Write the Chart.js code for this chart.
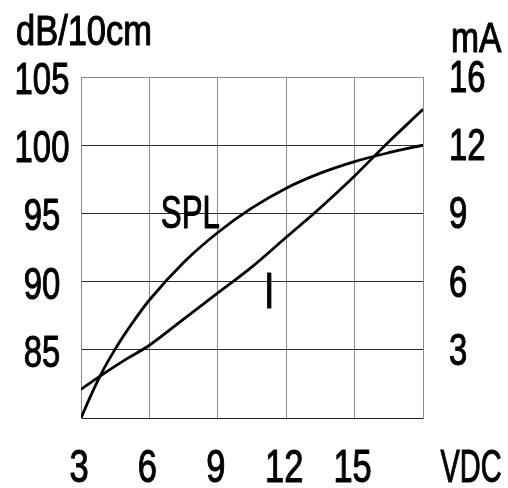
<!DOCTYPE html>
<html>
<head>
<meta charset="utf-8">
<script src="https://cdn.jsdelivr.net/npm/chart.js@4"></script>
<style>
  html, body { margin: 0; padding: 0; background: #fff; }
  #c { display: block; }
</style>
</head>
<body>
<canvas id="c" width="508" height="488"></canvas>
<script>
// ---- data ----
const splVoltage = [3, 3.5, 4, 4.5, 5, 6, 7.5, 9, 10.5, 12, 13.5, 15, 16.5, 18];
const splDb      = [80, 81.9, 83.6, 85.05, 86.35, 88.65, 91.4, 93.6, 95.4, 96.85, 97.95, 98.8, 99.45, 100];

const curVoltage = [3, 4, 5, 6, 7.5, 9, 10.5, 12, 13.5, 15, 16.5, 18];
const curMa      = [1.26, 1.95, 2.6, 3.2, 4.35, 5.5, 6.65, 7.95, 9.25, 10.65, 12.15, 13.58];

const xTickLabels     = ['3', '6', '9', '12', '15', ''];
const leftTickLabels  = ['', '85', '90', '95', '100', '105'];
const rightTickLabels = ['', '3', '6', '9', '12', '16'];

const leftTitle  = 'dB/10cm';
const rightTitle = 'mA';
const xUnit      = 'VDC';
const seriesNames = ['SPL', 'I'];

// ---- chart ----
const FONT = "'Liberation Sans', Arial, sans-serif";

function narrowText(ctx, str, x, y, size, sx, align) {
  ctx.save();
  ctx.translate(x, y);
  ctx.scale(sx, 1);
  ctx.font = size + 'px ' + FONT;
  ctx.textAlign = align;
  ctx.textBaseline = 'alphabetic';
  ctx.fillStyle = '#000';
  ctx.strokeStyle = '#000';
  ctx.lineWidth = 1.1;
  ctx.lineJoin = 'round';
  ctx.fillText(str, 0, 0);
  ctx.strokeText(str, 0, 0);
  ctx.restore();
}

const labelsPlugin = {
  id: 'labels',
  afterDraw(chart) {
    const ctx = chart.ctx;
    const ca = chart.chartArea;
    const x = chart.scales.x, y = chart.scales.y, y1 = chart.scales.y1;
    // tick labels, placed through the library scales
    y.ticks.forEach(t => {
      const s = leftTickLabels[Math.round((t.value - 80) / 5)];
      if (s) narrowText(ctx, s, 42, y.getPixelForValue(t.value) + 17, 45, 0.73, 'center');
    });
    y1.ticks.forEach(t => {
      const s = rightTickLabels[Math.round(t.value / 3)];
      if (s) narrowText(ctx, s, ca.right + 26, y1.getPixelForValue(t.value) + 15, 45, 0.73, 'left');
    });
    x.ticks.forEach(t => {
      const s = xTickLabels[Math.round((t.value - 3) / 3)];
      if (s) narrowText(ctx, s, x.getPixelForValue(t.value) - 2, 482, 46, 0.75, 'center');
    });
    // axis titles / unit
    narrowText(ctx, leftTitle, 16, 45, 42, 0.82, 'left');
    narrowText(ctx, rightTitle, ca.right + 28, 52, 42, 0.80, 'left');
    narrowText(ctx, xUnit, ca.right + 48, 482, 46, 0.63, 'center');
    // series names
    narrowText(ctx, seriesNames[0], x.getPixelForValue(6.5), y.getPixelForValue(91.3) - 36, 46, 0.68, 'left');
    narrowText(ctx, seriesNames[1], x.getPixelForValue(11.25), y1.getPixelForValue(0) - 110, 50, 0.75, 'center');
  }
};

new Chart(document.getElementById('c'), {
  type: 'line',
  data: {
    datasets: [
      {
        label: seriesNames[0],
        data: splVoltage.map((v, i) => ({ x: v, y: splDb[i] })),
        yAxisID: 'y',
        borderColor: '#000',
        borderWidth: 2.8,
        pointRadius: 0,
        tension: 0.35,
        fill: false
      },
      {
        label: seriesNames[1],
        data: curVoltage.map((v, i) => ({ x: v, y: curMa[i] })),
        yAxisID: 'y1',
        borderColor: '#000',
        borderWidth: 2.8,
        pointRadius: 0,
        tension: 0.35,
        fill: false
      }
    ]
  },
  options: {
    responsive: false,
    animation: false,
    events: [],
    layout: { padding: { top: 77, left: 0, right: 0, bottom: 0 } },
    plugins: { legend: { display: false }, tooltip: { enabled: false }, title: { display: false } },
    scales: {
      x: {
        type: 'linear',
        min: 3, max: 18,
        ticks: { stepSize: 3, display: false, autoSkip: false },
        grid: { color: '#8a8a8a', lineWidth: 1, drawTicks: false },
        border: { display: true, color: '#222', width: 1 },
        afterFit(s) { s.height = 70; }
      },
      y: {
        position: 'left',
        min: 80, max: 105,
        ticks: { stepSize: 5, display: false },
        grid: {
          color: (c) => (c.tick && c.tick.value === 105 ? '#8a8a8a' : '#2a2a2a'),
          lineWidth: 1, drawTicks: false
        },
        border: { display: true, color: '#8a8a8a', width: 1 },
        afterFit(s) { s.width = 81; }
      },
      y1: {
        position: 'right',
        min: 0, max: 15,
        ticks: { stepSize: 3, display: false },
        grid: { drawOnChartArea: false, drawTicks: false },
        border: { display: true, color: '#8a8a8a', width: 1 },
        afterFit(s) { s.width = 85; }
      }
    }
  },
  plugins: [labelsPlugin]
});
</script>
</body>
</html>
